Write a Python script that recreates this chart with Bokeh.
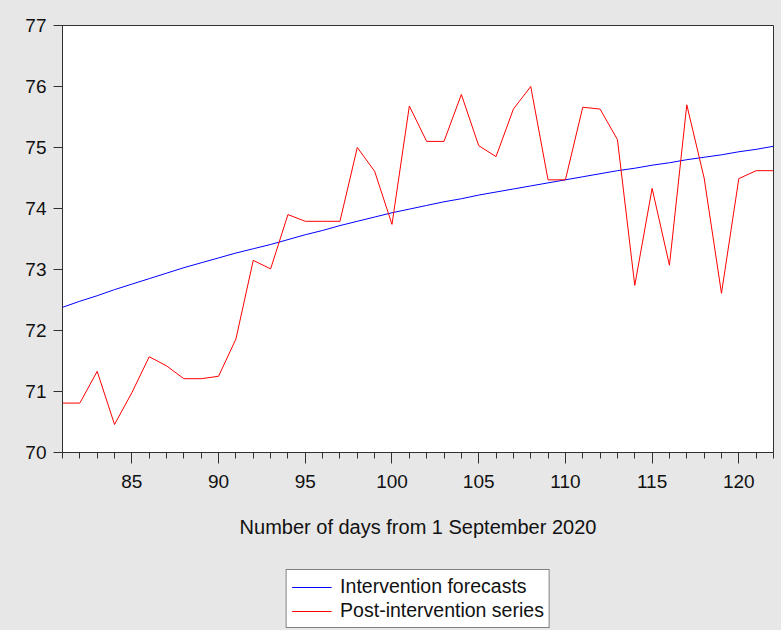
from bokeh.plotting import figure
from bokeh.models import Range1d, SingleIntervalTicker, FixedTicker, Legend, LegendItem
from bokeh.layouts import column
from bokeh.embed import file_html
from bokeh.resources import INLINE

days = [81, 82, 83, 84, 85, 86, 87, 88, 89, 90, 91, 92, 93, 94, 95, 96, 97, 98, 99, 100,
        101, 102, 103, 104, 105, 106, 107, 108, 109, 110, 111, 112, 113, 114, 115, 116,
        117, 118, 119, 120, 121, 122]

forecasts = [72.38, 72.48, 72.57, 72.67, 72.76, 72.85, 72.94, 73.03, 73.11, 73.19,
             73.27, 73.34, 73.41, 73.49, 73.57, 73.64, 73.72, 73.79, 73.86, 73.93,
             73.99, 74.05, 74.11, 74.16, 74.22, 74.27, 74.32, 74.37, 74.42, 74.47,
             74.52, 74.57, 74.62, 74.66, 74.71, 74.75, 74.80, 74.84, 74.88, 74.93,
             74.97, 75.02]

post_series = [70.81, 70.81, 71.33, 70.46, 70.98, 71.57, 71.42, 71.21, 71.21, 71.25,
               71.86, 73.15, 73.01, 73.90, 73.79, 73.79, 73.79, 75.00, 74.61, 73.74,
               75.68, 75.10, 75.10, 75.87, 75.03, 74.85, 75.63, 76.00, 74.47, 74.47,
               75.66, 75.63, 75.13, 72.74, 74.33, 73.07, 75.70, 74.50, 72.61, 74.49,
               74.62, 74.62]

y_ticks = [70, 71, 72, 73, 74, 75, 76, 77]

x_label = "Number of days from 1 September 2020"
series_names = ["Intervention forecasts", "Post-intervention series"]

FONT = "Liberation Sans"
BG = "#e7e7e7"
BLUE = "#0000ff"
RED = "#ff0000"

# ---- main chart ----
p = figure(width=781, height=560, output_backend="svg", toolbar_location=None,
           x_range=Range1d(81, 122), y_range=Range1d(70, 77),
           min_border_left=62, min_border_right=8, min_border_top=25, min_border_bottom=108)

p.background_fill_color = "white"
p.border_fill_color = BG
p.outline_line_color = "#303030"
p.outline_line_width = 1
p.xgrid.visible = False
p.ygrid.visible = False

p.line(days, forecasts, line_color=BLUE, line_width=1)
p.line(days, post_series, line_color=RED, line_width=1)

xa = p.xaxis[0]
xa.ticker = SingleIntervalTicker(interval=5, num_minor_ticks=5)
xa.major_tick_out = 11
xa.major_tick_in = 0
xa.minor_tick_out = 6
xa.minor_tick_in = 0
xa.axis_line_color = "#303030"
xa.major_tick_line_color = "#303030"
xa.minor_tick_line_color = "#303030"
xa.major_label_text_font = FONT
xa.major_label_text_font_size = "19px"
xa.major_label_text_color = "#111111"
xa.major_label_standoff = 11
xa.axis_label = x_label
xa.axis_label_text_font = FONT
xa.axis_label_text_font_size = "20px"
xa.axis_label_text_font_style = "normal"
xa.axis_label_text_color = "#111111"
xa.axis_label_standoff = 25

ya = p.yaxis[0]
ya.ticker = FixedTicker(ticks=y_ticks)
ya.major_tick_out = 9
ya.major_tick_in = 0
ya.minor_tick_out = 0
ya.minor_tick_in = 0
ya.axis_line_color = "#303030"
ya.major_tick_line_color = "#303030"
ya.major_label_text_font = FONT
ya.major_label_text_font_size = "19px"
ya.major_label_text_color = "#111111"
ya.major_label_standoff = 7

# ---- legend strip below the chart ----
# same side borders as the chart; the series lie outside its y range, so only the legend shows
lg = figure(width=781, height=70, output_backend="svg", toolbar_location=None,
            x_range=Range1d(81, 122), y_range=Range1d(0, 1),
            x_axis_location=None, y_axis_location=None,
            min_border_left=62, min_border_right=8, min_border_top=9, min_border_bottom=1)
lg.background_fill_color = None
lg.border_fill_color = BG
lg.outline_line_color = None
lg.xgrid.visible = False
lg.ygrid.visible = False

r_blue = lg.line(days, forecasts, line_color=BLUE, line_width=1)
r_red = lg.line(days, post_series, line_color=RED, line_width=1)

legend = Legend(items=[LegendItem(label=series_names[0], renderers=[r_blue]),
                       LegendItem(label=series_names[1], renderers=[r_red])],
                location="top", orientation="vertical")
legend.border_line_color = "black"
legend.border_line_width = 1
legend.background_fill_color = "white"
legend.background_fill_alpha = 1
legend.label_text_font = FONT
legend.label_text_font_size = "19.5px"
legend.label_text_color = "#111111"
legend.glyph_width = 40
legend.glyph_height = 20
legend.label_height = 20
legend.label_standoff = 9
legend.padding = 5
legend.spacing = 1
legend.margin = 0
lg.add_layout(legend, "center")

layout = column(p, lg, spacing=0, styles={"background-color": BG})
open("out.html", "w").write(file_html(layout, INLINE))
